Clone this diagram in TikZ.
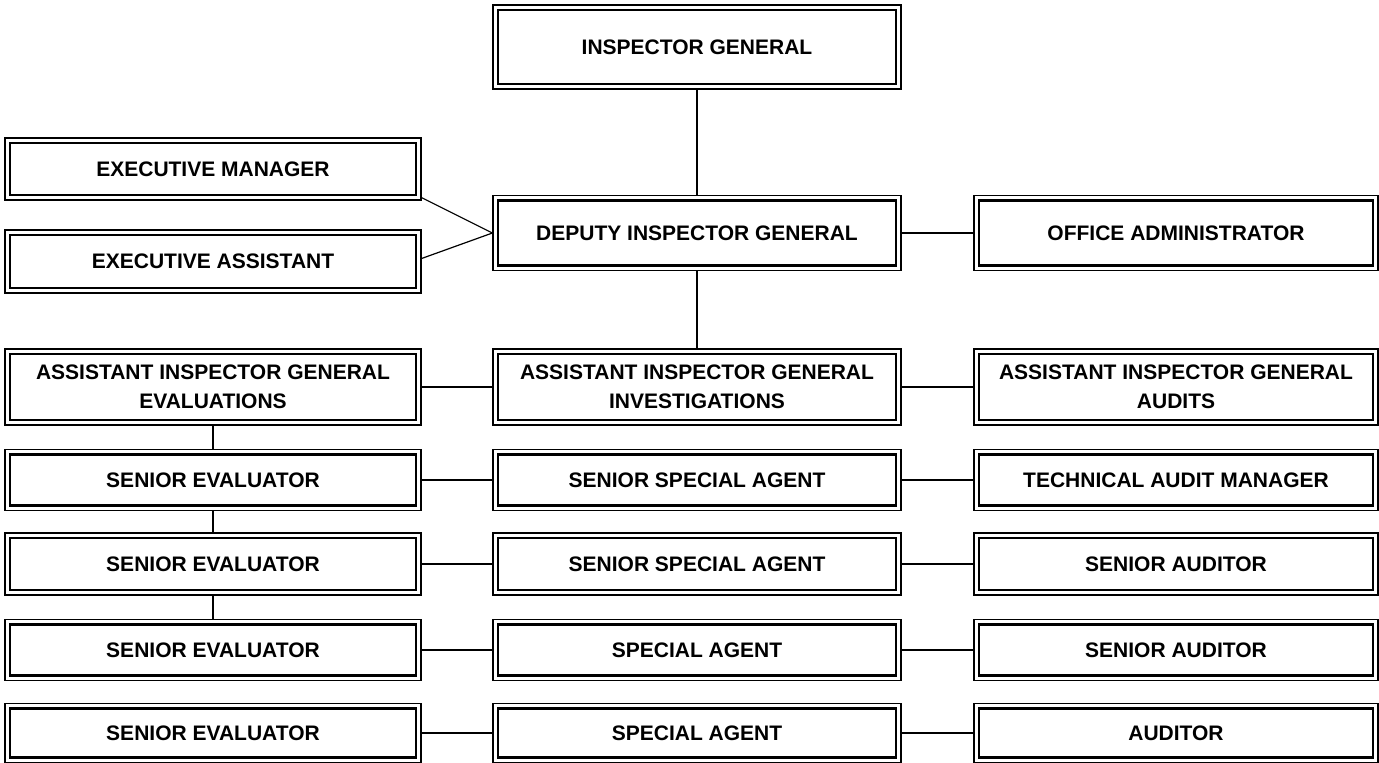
\documentclass[tikz,border=0pt]{standalone}
\usepackage{fontspec}
\setmainfont{Liberation Sans}
\begin{document}
\begin{tikzpicture}[x=1pt,y=-1pt,
  orgbox/.style={draw=black, line width=1.2pt, inner sep=0pt, align=center,
    font=\fontsize{21}{29}\selectfont\bfseries,
    path picture={\draw[line width=2.3pt,black]
      ([xshift=5pt,yshift=5pt]path picture bounding box.south west) rectangle
      ([xshift=-5pt,yshift=-5pt]path picture bounding box.north east);}},
  colL/.style={orgbox, minimum width=416pt},
  colM/.style={orgbox, minimum width=408pt},
  colR/.style={orgbox, minimum width=404pt},
  conn/.style={draw=black, line width=1.5pt}]
\useasboundingbox (0,0) rectangle (1379,763);
% top
\node[colM, minimum height=84pt] (ig) at (697,47) {INSPECTOR GENERAL};
\node[colL, minimum height=62pt] (em) at (213,169) {EXECUTIVE MANAGER};
\node[colL, minimum height=63pt] (ea) at (213,261.5) {EXECUTIVE ASSISTANT};
\node[colM, minimum height=75pt] (dig) at (697,233) {DEPUTY INSPECTOR GENERAL};
\node[colR, minimum height=75pt] (oa) at (1176,233) {OFFICE ADMINISTRATOR};
% AIG row
\node[colL, minimum height=76pt] (aigl) at (213,387) {ASSISTANT INSPECTOR GENERAL\\EVALUATIONS};
\node[colM, minimum height=76pt] (aigm) at (697,387) {ASSISTANT INSPECTOR GENERAL\\INVESTIGATIONS};
\node[colR, minimum height=76pt] (aigr) at (1176,387) {ASSISTANT INSPECTOR GENERAL\\AUDITS};
% row 1
\node[colL, minimum height=61pt] (l1) at (213,480) {SENIOR EVALUATOR};
\node[colM, minimum height=61pt] (m1) at (697,480) {SENIOR SPECIAL AGENT};
\node[colR, minimum height=61pt] (r1) at (1176,480) {TECHNICAL AUDIT MANAGER};
% row 2
\node[colL, minimum height=62pt] (l2) at (213,564) {SENIOR EVALUATOR};
\node[colM, minimum height=62pt] (m2) at (697,564) {SENIOR SPECIAL AGENT};
\node[colR, minimum height=62pt] (r2) at (1176,564) {SENIOR AUDITOR};
% row 3
\node[colL, minimum height=61pt] (l3) at (213,650) {SENIOR EVALUATOR};
\node[colM, minimum height=61pt] (m3) at (697,650) {SPECIAL AGENT};
\node[colR, minimum height=61pt] (r3) at (1176,650) {SENIOR AUDITOR};
% row 4
\node[colL, minimum height=59pt] (l4) at (213,733) {SENIOR EVALUATOR};
\node[colM, minimum height=59pt] (m4) at (697,733) {SPECIAL AGENT};
\node[colR, minimum height=59pt] (r4) at (1176,733) {AUDITOR};
% connectors
\draw[conn] (ig) -- (dig);
\draw[conn, line width=1.2pt] ([yshift=3pt]em.south east) -- (dig.west);
\draw[conn, line width=1.2pt] ([yshift=3pt]ea.east) -- (dig.west);
\draw[conn] (dig) -- (oa);
\draw[conn] (dig) -- (aigm);
\draw[conn] (aigl) -- (aigm);
\draw[conn] (aigm) -- (aigr);
\draw[conn] (l1) -- (m1);
\draw[conn] (m1) -- (r1);
\draw[conn] (l2) -- (m2);
\draw[conn] (m2) -- (r2);
\draw[conn] (l3) -- (m3);
\draw[conn] (m3) -- (r3);
\draw[conn] (l4) -- (m4);
\draw[conn] (m4) -- (r4);
\draw[conn] (aigl) -- (l1);
\draw[conn] (l1) -- (l2);
\draw[conn] (l2) -- (l3);
\end{tikzpicture}
\end{document}
